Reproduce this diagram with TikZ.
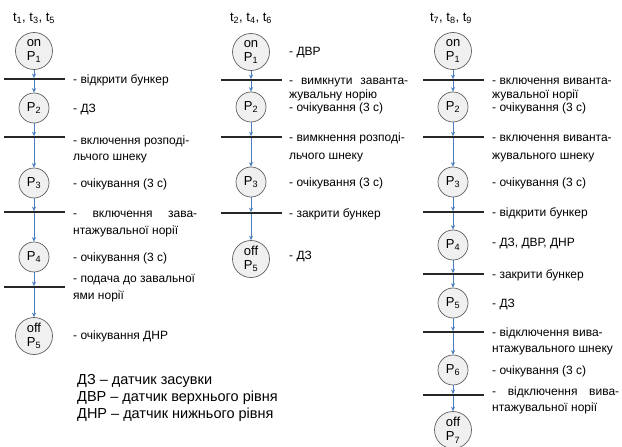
\documentclass[tikz,border=0pt]{standalone}
\usepackage{fontspec}
\setmainfont{Liberation Sans}
\usetikzlibrary{arrows.meta}
\definecolor{arrblue}{RGB}{74,126,192}
\definecolor{ringgray}{RGB}{95,95,95}
\definecolor{ringfill}{RGB}{240,240,240}
\begin{document}
\begin{tikzpicture}[x=1pt,y=-1pt,
  st/.style={circle, draw=ringgray, fill=ringfill, line width=0.7pt, minimum size=30pt, inner sep=0pt, font=\fontsize{13}{14.5}\selectfont},
  bigst/.style={st, minimum size=37pt, align=center},
  bar/.style={rectangle, fill=black!85, minimum width=61pt, minimum height=1.7pt, inner sep=0pt, outer sep=0pt},
  flow/.style={draw=arrblue, line width=0.75pt, -{Stealth[length=4.5pt,width=4pt]}},
  lbl/.style={anchor=base west, inner sep=0pt, font=\fontsize{12}{13}\selectfont},
  leg/.style={anchor=base west, inner sep=0pt, font=\fontsize{14.5}{16}\selectfont},
  tl/.style={anchor=base, inner sep=0pt, font=\fontsize{13}{14}\selectfont}
]
\useasboundingbox (0,0) rectangle (622,447);

% ---------- column 1 ----------
\node[tl] (t1) at (34,21) {t\textsubscript{1}, t\textsubscript{3}, t\textsubscript{5}};
\node[bigst] (a1) at (34,51) {on\\P\textsubscript{1}};
\node[bar] (ab1) at (34,79) {};
\node[st] (a2) at (34,108) {P\textsubscript{2}};
\node[bar] (ab2) at (34,137) {};
\node[st] (a3) at (34,183) {P\textsubscript{3}};
\node[bar] (ab3) at (34,212) {};
\node[st] (a4) at (34,257) {P\textsubscript{4}};
\node[bar] (ab4) at (34,287) {};
\node[bigst] (a5) at (34,336) {off\\P\textsubscript{5}};
\draw[flow] (a1) -- (ab1);
\draw[flow] (ab1) -- (a2);
\draw[flow] (a2) -- (ab2);
\draw[flow] (ab2) -- (a3);
\draw[flow] (a3) -- (ab3);
\draw[flow] (ab3) -- (a4);
\draw[flow] (a4) -- (ab4);
\draw[flow] (ab4) -- (a5);

\node[lbl] (la1) at (73,83) {- відкрити бункер};
\node[lbl] (la2) at (73,112) {- ДЗ};
\node[lbl] (la3) at (73,144) {- включення розподі-};
\node[lbl] (la3b) at (73,160) {льчого шнеку};
\node[lbl] (la4) at (73,187) {- очікування (3 с)};
\node[lbl] (la5) at (73,217) {\makebox[124pt][s]{- включення зава-}};
\node[lbl] (la5b) at (73,234) {нтажувальної норії};
\node[lbl] (la6) at (73,261) {- очікування (3 с)};
\node[lbl] (la7) at (73,282) {- подача до завальної};
\node[lbl] (la7b) at (73,299) {ями норії};
\node[lbl] (la8) at (73,339) {- очікування ДНР};

\node[leg] (g1) at (77,384) {ДЗ – датчик засувки};
\node[leg] (g2) at (77,401) {ДВР – датчик верхнього рівня};
\node[leg] (g3) at (77,418) {ДНР – датчик нижнього рівня};

% ---------- column 2 ----------
\node[tl] (t2) at (251,21) {t\textsubscript{2}, t\textsubscript{4}, t\textsubscript{6}};
\node[bigst] (b1) at (251,52) {on\\P\textsubscript{1}};
\node[bar] (bb1) at (251,80) {};
\node[st] (b2) at (251,107) {P\textsubscript{2}};
\node[bar] (bb2) at (251,137) {};
\node[st] (b3) at (251,182) {P\textsubscript{3}};
\node[bar] (bb3) at (251,213) {};
\node[bigst] (b5) at (251,259) {off\\P\textsubscript{5}};
\draw[flow] (b1) -- (bb1);
\draw[flow] (bb1) -- (b2);
\draw[flow] (b2) -- (bb2);
\draw[flow] (bb2) -- (b3);
\draw[flow] (b3) -- (bb3);
\draw[flow] (bb3) -- (b5);

\node[lbl] (lb1) at (289,56) {- ДВР};
\node[lbl] (lb2) at (289,84) {\makebox[119pt][s]{- вимкнути заванта-}};
\node[lbl] (lb2b) at (289,98) {жувальну норію};
\node[lbl] (lb3) at (289,111) {- очікування (3 с)};
\node[lbl] (lb4) at (289,141) {- вимкнення розподі-};
\node[lbl] (lb4b) at (289,159) {льчого шнеку};
\node[lbl] (lb5) at (289,186) {- очікування (3 с)};
\node[lbl] (lb6) at (289,217) {- закрити бункер};
\node[lbl] (lb7) at (289,259) {- ДЗ};

% ---------- column 3 ----------
\node[tl] (t3) at (451,21) {t\textsubscript{7}, t\textsubscript{8}, t\textsubscript{9}};
\node[bigst] (c1) at (453,51) {on\\P\textsubscript{1}};
\node[bar] (cb1) at (453,80) {};
\node[st] (c2) at (453,107) {P\textsubscript{2}};
\node[bar] (cb2) at (453,137) {};
\node[st] (c3) at (453,182) {P\textsubscript{3}};
\node[bar] (cb3) at (453,212) {};
\node[st] (c4) at (453,245) {P\textsubscript{4}};
\node[bar] (cb4) at (453,274) {};
\node[st] (c5) at (453,303) {P\textsubscript{5}};
\node[bar] (cb5) at (453,332) {};
\node[st] (c6) at (453,370) {P\textsubscript{6}};
\node[bar] (cb6) at (453,395) {};
\node[bigst] (c7) at (453,430) {off\\P\textsubscript{7}};
\draw[flow] (c1) -- (cb1);
\draw[flow] (cb1) -- (c2);
\draw[flow] (c2) -- (cb2);
\draw[flow] (cb2) -- (c3);
\draw[flow] (c3) -- (cb3);
\draw[flow] (cb3) -- (c4);
\draw[flow] (c4) -- (cb4);
\draw[flow] (cb4) -- (c5);
\draw[flow] (c5) -- (cb5);
\draw[flow] (cb5) -- (c6);
\draw[flow] (c6) -- (cb6);
\draw[flow] (cb6) -- (c7);

\node[lbl] (lc1) at (492,84) {- включення виванта-};
\node[lbl] (lc1b) at (492,98) {жувальної норії};
\node[lbl] (lc2) at (492,111) {- очікування (3 с)};
\node[lbl] (lc3) at (492,141) {- включення виванта-};
\node[lbl] (lc3b) at (492,159) {жувального шнеку};
\node[lbl] (lc4) at (492,186) {- очікування (3 с)};
\node[lbl] (lc5) at (492,216) {- відкрити бункер};
\node[lbl] (lc6) at (492,246) {- ДЗ, ДВР, ДНР};
\node[lbl] (lc7) at (492,278) {- закрити бункер};
\node[lbl] (lc8) at (492,307) {- ДЗ};
\node[lbl] (lc9) at (492,336) {- відключення вива-};
\node[lbl] (lc9b) at (492,352) {нтажувального шнеку};
\node[lbl] (lc10) at (492,374) {- очікування (3 с)};
\node[lbl] (lc11) at (492,395) {\makebox[127pt][s]{- відключення вива-}};
\node[lbl] (lc11b) at (492,411) {нтажувальної норії};
\end{tikzpicture}
\end{document}
